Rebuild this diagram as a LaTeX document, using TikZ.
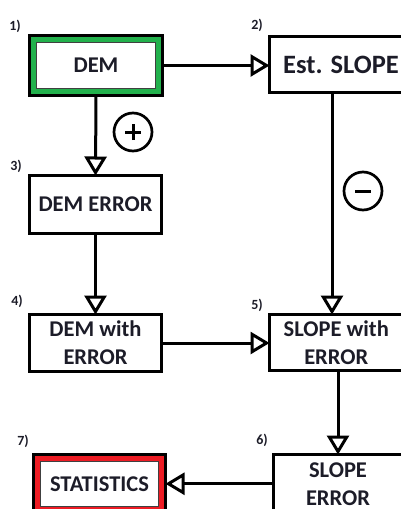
\documentclass[tikz,border=0pt]{standalone}
\usepackage{fontspec}
\setmainfont{Carlito}
\usetikzlibrary{arrows.meta}
\definecolor{demgreen}{RGB}{34,177,76}
\definecolor{statred}{RGB}{237,28,36}
\definecolor{ink}{RGB}{28,28,40}
\begin{document}
\begin{tikzpicture}[x=1pt,y=-1pt,
  box/.style={draw=black, line width=3pt, fill=white, inner sep=0pt, outer sep=0pt,
    font=\fontsize{22.5}{28}\selectfont\bfseries, text=ink, align=center},
  num/.style={font=\fontsize{14}{16}\selectfont\bfseries, text=ink},
  flow/.style={line width=3pt, -{Triangle[fill=white, length=19pt, width=22pt]}},
  sign/.style={circle, draw=black, line width=2.7pt, fill=white, minimum size=38pt, inner sep=0pt},
  band/.style={line width=5pt}]
\useasboundingbox (0,0) rectangle (400,509);

% process boxes
\node[box, minimum width=133pt, minimum height=60pt] (dem) at (96,65.5) {DEM};
\node[box, minimum width=143pt, minimum height=56pt, font=\fontsize{26.5}{30}\selectfont\bfseries] (est) at (341,64.5) {Est. SLOPE};
\node[box, minimum width=132pt, minimum height=58pt] (dme) at (95.5,204.5) {DEM ERROR};
\node[box, minimum width=132pt, minimum height=57pt] (dmw) at (95.5,343) {DEM with\\ERROR};
\node[box, minimum width=133.5pt, minimum height=56pt] (slw) at (336.25,342.5) {SLOPE with\\ERROR};
\node[box, minimum width=129pt, minimum height=58.5pt] (se) at (338,483.75) {SLOPE\\ERROR};
\node[box, minimum width=132pt, minimum height=58.5pt] (st) at (99.5,483.75) {STATISTICS};

% coloured frames of the start and end boxes
\draw[band, demgreen] ([shift={(4,4)}]dem.north west) rectangle ([shift={(-4,-4)}]dem.south east);
\draw[line width=0.8pt, black!75] ([shift={(6.8,6.8)}]dem.north west) rectangle ([shift={(-6.8,-6.8)}]dem.south east);
\draw[band, statred] ([shift={(4,4)}]st.north west) rectangle ([shift={(-4,-4)}]st.south east);
\draw[line width=0.8pt, black!75] ([shift={(6.8,6.8)}]st.north west) rectangle ([shift={(-6.8,-6.8)}]st.south east);

% step numbers
\node[num] (l1) at (15,26) {1)};
\node[num] (l2) at (257,25) {2)};
\node[num] (l3) at (16,166) {3)};
\node[num] (l4) at (17,301) {4)};
\node[num] (l5) at (257,305) {5)};
\node[num] (l6) at (262,440) {6)};
\node[num] (l7) at (23,441) {7)};

% connectors
\coordinate (colR) at (332,0);
\draw[flow] (dem.east) -- (dem.east -| est.west);
\draw[flow] (dem.south) -- (dme.north);
\draw[flow] (dme.south) -- (dmw.north);
\draw[flow] (est.south -| colR) -- (slw.north -| colR);
\draw[flow] (dmw.east) -- (dmw.east -| slw.west);
\draw[flow] (slw.south -| se.north) -- (se.north);
\draw[flow] (se.west |- st.east) -- (st.east);

% sign markers
\node[sign] (plus) at (133,132) {};
\draw[line width=3pt] ([xshift=-8]plus.center) -- ([xshift=8]plus.center)
  ([yshift=-8]plus.center) -- ([yshift=8]plus.center);
\node[sign] (minus) at (363,191) {};
\draw[line width=3pt] ([xshift=-8]minus.center) -- ([xshift=8]minus.center);
\end{tikzpicture}
\end{document}
